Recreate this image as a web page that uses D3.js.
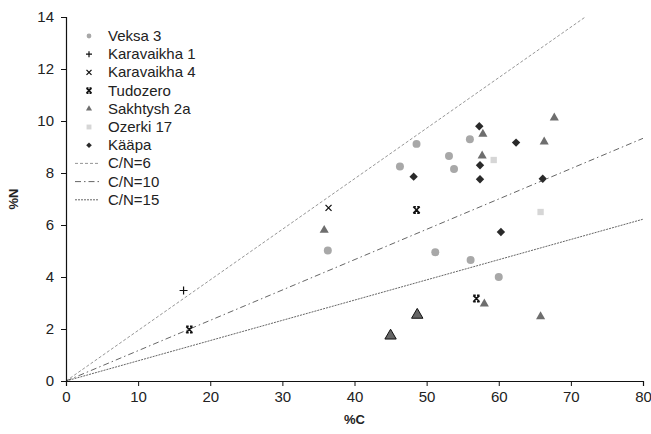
<!DOCTYPE html>
<html>
<head>
<meta charset="utf-8">
<script src="https://cdn.jsdelivr.net/npm/d3@7"></script>
<style>
  html, body { margin: 0; padding: 0; background: #fff; }
  svg { display: block; font-family: "Liberation Sans", Arial, sans-serif; }
</style>
</head>
<body>
<svg id="chart" width="651" height="434"></svg>
<script>
// %C and %N per site
const veksaC = [46.3, 48.6, 53.1, 53.8, 56.0, 36.3, 51.2, 56.1, 60.0];
const veksaN = [8.25, 9.12, 8.65, 8.15, 9.30, 5.02, 4.95, 4.65, 4.00];

const karavaikha1C = [16.3];
const karavaikha1N = [3.48];

const karavaikha4C = [36.4];
const karavaikha4N = [6.66];

const tudozeroC = [17.1, 48.6, 56.9];
const tudozeroN = [1.98, 6.58, 3.17];

const sakhtyshC = [35.8, 57.8, 57.7, 66.3, 67.7, 58.0, 65.8];
const sakhtyshN = [5.80, 9.50, 8.66, 9.20, 10.12, 2.97, 2.48];
// two samples drawn with a larger outlined marker
const sakhtyshBigC = [48.7, 45.0];
const sakhtyshBigN = [2.54, 1.74];

const ozerkiC = [59.3, 65.8];
const ozerkiN = [8.50, 6.50];

const kaapaC = [57.3, 62.4, 57.4, 57.4, 66.1, 48.2, 60.3];
const kaapaN = [9.80, 9.17, 8.30, 7.76, 7.78, 7.86, 5.73];

// molar C/N reference lines
const ratios = [6, 10, 15];
const ratioLabels = ["C/N=6", "C/N=10", "C/N=15"];

const xTicks = [0, 10, 20, 30, 40, 50, 60, 70, 80];
const yTicks = [0, 2, 4, 6, 8, 10, 12, 14];

const svg = d3.select("#chart");
const x = d3.scaleLinear().domain([0, 80]).range([66, 643]);
const y = d3.scaleLinear().domain([0, 14]).range([381, 17]);

// N (%) on a given molar C/N line
const nOnLine = (c, r) => 14 * c / (12 * r);

const lineStyles = [
  { stroke: "#8a8a8a", dash: "3,2", width: 0.9 },
  { stroke: "#555", dash: "6,3,1.5,3", width: 0.9 },
  { stroke: "#555", dash: "2,1", width: 0.9 }
];

svg.append("clipPath").attr("id", "plot")
  .append("rect").attr("x", x(0)).attr("y", y(14))
  .attr("width", x(80) - x(0)).attr("height", y(0) - y(14));

const lineGen = d3.line().x(d => x(d[0])).y(d => y(d[1]));
ratios.forEach((r, i) => {
  const cEnd = Math.min(80, 12 * r);
  svg.append("path")
    .attr("clip-path", "url(#plot)")
    .attr("d", lineGen([[0, 0], [cEnd, nOnLine(cEnd, r)]]))
    .attr("fill", "none")
    .attr("stroke", lineStyles[i].stroke)
    .attr("stroke-width", lineStyles[i].width)
    .attr("stroke-dasharray", lineStyles[i].dash);
});

// axes
const xAxis = d3.axisBottom(x).tickValues(xTicks).tickSize(5).tickPadding(5).tickFormat(d3.format("d"));
const yAxis = d3.axisLeft(y).tickValues(yTicks).tickSize(5).tickPadding(7).tickFormat(d3.format("d"));

const gx = svg.append("g").attr("transform", `translate(0,${y(0)})`).call(xAxis);
const gy = svg.append("g").attr("transform", `translate(${x(0)},0)`).call(yAxis);
[gx, gy].forEach(g => {
  g.select(".domain").attr("stroke", "#111").attr("stroke-width", 1.2);
  g.selectAll(".tick line").attr("stroke", "#111");
  g.selectAll(".tick text").attr("fill", "#222").style("font-size", "15px")
    .style("font-family", "'Liberation Sans', Arial, sans-serif");
});

svg.append("text").attr("x", (x(0) + x(80)) / 2).attr("y", 424)
  .attr("text-anchor", "middle").style("font-size", "13px").style("font-weight", "bold")
  .attr("fill", "#222").text("%C");
svg.append("text").attr("transform", `translate(18,${y(7)}) rotate(-90)`)
  .attr("text-anchor", "middle").style("font-size", "13px").style("font-weight", "bold")
  .attr("fill", "#222").text("%N");

// marker shapes
function plusPath(s) { return `M${-s},0H${s}M0,${-s}V${s}`; }
function crossPath(s) { return `M${-s},${-s}L${s},${s}M${-s},${s}L${s},${-s}`; }
function hourglassPath(s) {
  return `M${-s},${-s}L${s},${s}M${-s},${s}L${s},${-s}M${-s},${-s}H${-s * 0.2}M${s * 0.2},${-s}H${s}M${-s},${s}H${-s * 0.2}M${s * 0.2},${s}H${s}`;
}
function diamondPath(s) { return `M0,${-s}L${s},0L0,${s}L${-s},0Z`; }

const series = [
  { name: "Veksa 3", c: veksaC, n: veksaN, kind: "fill", type: d3.symbolCircle, size: 50, legendSize: 18, color: "#a8a8a8" },
  { name: "Karavaikha 1", c: karavaikha1C, n: karavaikha1N, kind: "stroke", path: plusPath, s: 4, legendS: 3, color: "#111", w: 1.2 },
  { name: "Karavaikha 4", c: karavaikha4C, n: karavaikha4N, kind: "stroke", path: crossPath, s: 3, legendS: 2.5, color: "#111", w: 1.3 },
  { name: "Tudozero", c: tudozeroC, n: tudozeroN, kind: "stroke", path: hourglassPath, s: 3.2, legendS: 2.5, color: "#111", w: 1.6 },
  { name: "Sakhtysh 2a", c: sakhtyshC, n: sakhtyshN, kind: "fill", type: d3.symbolTriangle, size: 36, legendSize: 16, color: "#6e6e6e" },
  { name: "Ozerki 17", c: ozerkiC, n: ozerkiN, kind: "fill", type: d3.symbolSquare, size: 40, legendSize: 24, color: "#d6d6d6" },
  { name: "Kääpa", c: kaapaC, n: kaapaN, kind: "custom", path: diamondPath, s: 4.2, legendS: 2.8, color: "#2a2a2a" }
];

function drawMarker(g, sr, cx, cy, legend) {
  if (sr.kind === "fill") {
    g.append("path")
      .attr("d", d3.symbol().type(sr.type).size(legend ? sr.legendSize : sr.size)())
      .attr("transform", `translate(${cx},${cy})`)
      .attr("fill", sr.color);
  } else if (sr.kind === "custom") {
    g.append("path")
      .attr("d", sr.path(legend ? sr.legendS : sr.s))
      .attr("transform", `translate(${cx},${cy})`)
      .attr("fill", sr.color);
  } else {
    g.append("path")
      .attr("d", sr.path(legend ? sr.legendS : sr.s))
      .attr("transform", `translate(${cx},${cy})`)
      .attr("fill", "none").attr("stroke", sr.color).attr("stroke-width", sr.w);
  }
}

const pts = svg.append("g");
series.forEach(sr => {
  sr.c.forEach((c, i) => drawMarker(pts, sr, x(c), y(sr.n[i]), false));
});
sakhtyshBigC.forEach((c, i) => {
  pts.append("path")
    .attr("d", d3.symbol().type(d3.symbolTriangle).size(56)())
    .attr("transform", `translate(${x(c)},${y(sakhtyshBigN[i])})`)
    .attr("fill", "#666").attr("stroke", "#111").attr("stroke-width", 1);
});

// legend
const leg = svg.append("g");
const rowY = i => 36 + i * 18.2;
series.forEach((sr, i) => {
  drawMarker(leg, sr, 89, rowY(i), true);
  leg.append("text").attr("x", 108).attr("y", rowY(i) + 5)
    .style("font-size", "15px").attr("fill", "#222").text(sr.name);
});
ratioLabels.forEach((lab, j) => {
  const i = series.length + j;
  leg.append("line").attr("x1", 75).attr("x2", 99).attr("y1", rowY(i)).attr("y2", rowY(i))
    .attr("stroke", lineStyles[j].stroke).attr("stroke-width", lineStyles[j].width)
    .attr("stroke-dasharray", lineStyles[j].dash);
  leg.append("text").attr("x", 108).attr("y", rowY(i) + 5)
    .style("font-size", "15px").attr("fill", "#222").text(lab);
});
</script>
</body>
</html>
